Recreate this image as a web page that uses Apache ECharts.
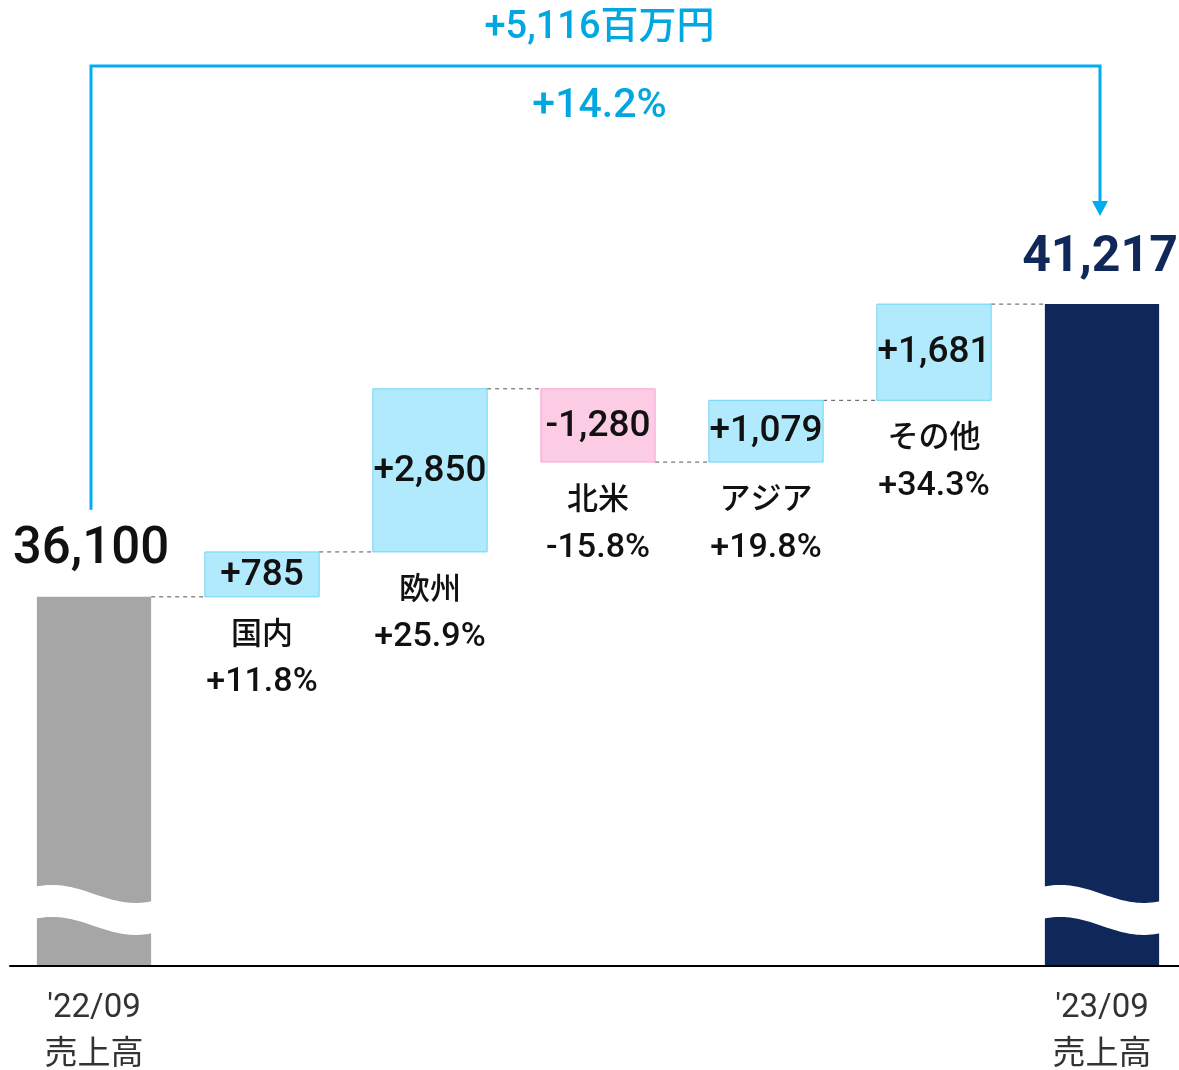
<!DOCTYPE html>
<html><head><meta charset="utf-8">
<script src="https://cdn.jsdelivr.net/npm/echarts@6/dist/echarts.min.js"></script>
<style>html,body{margin:0;padding:0;background:#fff}#c{width:1179px;height:1070px}</style>
</head><body><div id="c"></div>
<script>
// ---- data ----
const categories = ["'22/09\n売上高", "国内", "欧州", "北米", "アジア", "その他", "'23/09\n売上高"];
const segmentNames = ["国内", "欧州", "北米", "アジア", "その他"];
const startValue = 36100;
const endValue = 41217;
const deltas = [785, 2850, -1280, 1079, 1681];
const deltaPct = ["+11.8%", "+25.9%", "-15.8%", "+19.8%", "+34.3%"];
const totalChangeLabel = "+5,116百万円";
const totalPctLabel = "+14.2%";
const axisMin = 29650;
const breakValue = 30630;

// ---- derived ----
const fmt = v => v.toLocaleString('en-US');
const bars = [];
bars.push({cat: 0, lo: axisMin, hi: startValue, kind: 'start', label: fmt(startValue)});
const levels = [startValue];
let run = startValue;
deltas.forEach((d, i) => {
  const lo = Math.min(run, run + d), hi = Math.max(run, run + d);
  bars.push({cat: i + 1, lo, hi, kind: d >= 0 ? 'up' : 'down',
    label: (d >= 0 ? '+' : '-') + fmt(Math.abs(d)), name: segmentNames[i], pct: deltaPct[i]});
  run += d;
  levels.push(run);
});
bars.push({cat: 6, lo: axisMin, hi: endValue, kind: 'end', label: fmt(endValue)});

const FONT = "Roboto, 'Noto Sans CJK JP', sans-serif";
const BAR_RATIO = 0.68;
const styles = {
  start: {fill: '#a6a6a6', stroke: null},
  end: {fill: '#0f2859', stroke: null},
  up: {fill: '#b0eafc', stroke: '#6fd4f6'},
  down: {fill: '#fccbe4', stroke: '#f5a6d0'}
};

function txt(x, y, text, size, weight, color) {
  return {type: 'text', x, y, style: {text, fill: color, fontSize: size, fontWeight: weight,
    fontFamily: FONT, align: 'center', verticalAlign: 'middle'}};
}

function renderBar(params, api) {
  const b = bars[params.dataIndex];
  const pLo = api.coord([b.cat, b.lo]);
  const pHi = api.coord([b.cat, b.hi]);
  const bw = api.size([1, 0])[0] * BAR_RATIO;
  const x = pLo[0] - bw / 2;
  const st = styles[b.kind];
  const children = [{
    type: 'rect',
    shape: {x: x, y: pHi[1], width: bw, height: pLo[1] - pHi[1]},
    style: st.stroke ? {fill: st.fill, stroke: st.stroke, lineWidth: 1} : {fill: st.fill}
  }];
  if (b.kind === 'start') {
    children.push(txt(pHi[0] - 3, pHi[1] - 47, b.label, 51, 500, '#111'));
  } else if (b.kind === 'end') {
    children.push(txt(pHi[0] - 2, pHi[1] - 46, b.label, 50, 700, '#0f2859'));
  } else {
    children.push(txt(pHi[0], (pHi[1] + pLo[1]) / 2 + 1, b.label, 37, 500, '#111'));
    children.push(txt(pHi[0], pLo[1] + 39, b.name, 31, 500, '#111'));
    children.push(txt(pHi[0], pLo[1] + 86, b.pct, 34, 500, '#111'));
  }
  return {type: 'group', children};
}

function renderConnector(params, api) {
  const i = params.dataIndex;
  const bw = api.size([1, 0])[0] * BAR_RATIO;
  const p1 = api.coord([i, levels[i]]);
  const p2 = api.coord([i + 1, levels[i]]);
  return {type: 'line', shape: {x1: p1[0] + bw / 2, y1: p1[1], x2: p2[0] - bw / 2, y2: p1[1]},
    style: {stroke: '#555', lineWidth: 1, lineDash: [4, 4]}};
}

function renderBreak(params, api) {
  const c = api.value(0);
  const p = api.coord([c, breakValue]);
  const bw = api.size([1, 0])[0] * BAR_RATIO;
  const x0 = p[0] - bw / 2 - 1, x1 = p[0] + bw / 2 + 1;
  const A = 9, half = 16, N = 40;
  const top = [], bot = [];
  for (let k = 0; k <= N; k++) {
    const t = k / N;
    const f = -Math.cos(Math.PI * (1.4 * t - 0.2));
    const x = x0 + (x1 - x0) * t;
    top.push([x, p[1] - half + A * f]);
    bot.push([x, p[1] + half + A * f]);
  }
  return {type: 'polygon', shape: {points: top.concat(bot.reverse())}, style: {fill: '#fff'}};
}

function renderBracket(params, api) {
  const a = api.coord([0, startValue]);
  const b = api.coord([6, endValue]);
  const xa = a[0] - 3, xb = b[0] - 2;
  const topY = 66;
  const tipY = b[1] - 88;
  const color = '#00aeef';
  const mid = (xa + xb) / 2 + 4;
  return {type: 'group', children: [
    {type: 'polyline', shape: {points: [[xa, a[1] - 87], [xa, topY], [xb, topY], [xb, tipY - 14]]},
      style: {stroke: color, lineWidth: 3, fill: null}},
    {type: 'polygon', shape: {points: [[xb - 8, tipY - 15], [xb + 8, tipY - 15], [xb, tipY]]},
      style: {fill: color}},
    txt(mid, 28, totalChangeLabel, 38, 500, '#00a7e1'),
    txt(mid, 107, totalPctLabel, 41, 500, '#00a7e1')
  ]};
}

const chart = echarts.init(document.getElementById('c'), null, {renderer: 'canvas'});
chart.setOption({
  animation: false,
  backgroundColor: '#fff',
  grid: {left: 10, width: 1176, top: 304, bottom: 104, containLabel: false, outerBoundsMode: 'none'},
  xAxis: {
    type: 'category', data: categories,
    axisLine: {lineStyle: {color: '#000', width: 2}},
    axisTick: {show: false},
    axisLabel: {
      interval: (i) => i === 0 || i === categories.length - 1,
      fontSize: 33, lineHeight: 47, color: '#333', fontFamily: FONT, margin: 19
    },
    z: 10
  },
  yAxis: {type: 'value', min: axisMin, max: endValue, show: false, splitLine: {show: false}},
  series: [
    {type: 'custom', renderItem: renderBar, data: bars.map(b => [b.cat, b.lo, b.hi]), z: 2, clip: false},
    {type: 'custom', renderItem: renderConnector, data: levels.map((v, i) => [i, v]), z: 1, clip: false},
    {type: 'custom', renderItem: renderBreak, data: [[0], [6]], z: 3, clip: false},
    {type: 'custom', renderItem: renderBracket, data: [[0]], z: 4, clip: false}
  ]
});
</script></body></html>
